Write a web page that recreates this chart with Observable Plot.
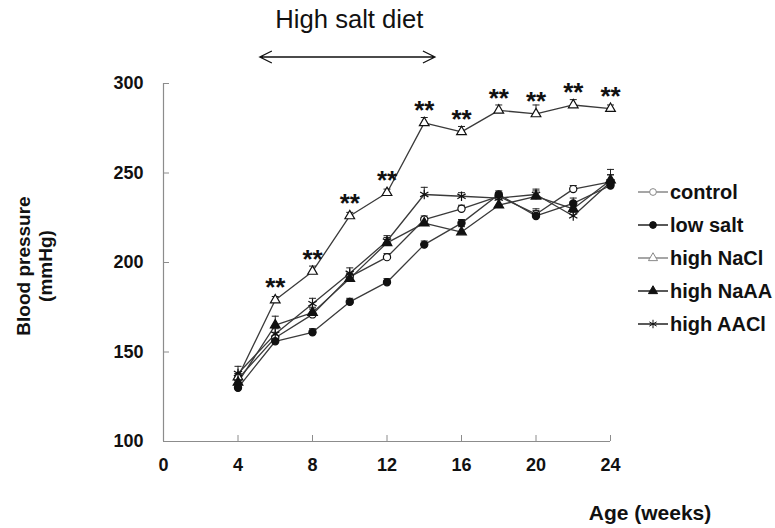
<!DOCTYPE html>
<html><head><meta charset="utf-8">
<script src="https://cdn.jsdelivr.net/npm/d3@7"></script>
<script src="https://cdn.jsdelivr.net/npm/@observablehq/plot@0.6"></script>
<style>
html,body{margin:0;padding:0;background:#fff;}
#chart{width:775px;height:528px;}
</style></head><body><div id="chart"></div>
<script>
// ---- data ----
const weeks = [4, 6, 8, 10, 12, 14, 16, 18, 20, 22, 24];
const control  = [135, 158, 171, 192, 203, 224, 230, 237, 227, 241, 245];
const lowSalt  = [130, 156, 161, 178, 189, 210, 222, 238, 226, 233, 243];
const highNaCl = [136, 179, 195, 226, 239, 278, 273, 285, 283, 288, 286];
const highNaAA = [133, 165, 172, 191, 211, 222, 217, 232, 237, 230, 246];
const highAACl = [138, 160, 177, 194, 212, 238, 237, 236, 238, 226, 245];
const errControl  = [3, 3, 3, 2, 2, 2, 2, 2, 2, 2, 4];
const errLowSalt  = [2, 2, 2, 2, 2, 2, 2, 2, 4, 3, 3];
const errHighNaCl = [2, 2, 3, 2, 2, 3, 3, 3, 5, 3, 2];
const errHighNaAA = [3, 5, 3, 3, 3, 3, 3, 3, 3, 4, 6];
const errHighAACl = [4, 3, 3, 3, 3, 4, 2, 2, 3, 2, 4];
const seriesNames = ["control", "low salt", "high NaCl", "high NaAA", "high AACl"];
const starWeeks = [6, 8, 10, 12, 14, 16, 18, 20, 22, 24];
const starLabel = "**";
const xTicks = [0, 4, 8, 12, 16, 20, 24];
const yTicks = [100, 150, 200, 250, 300];
const titleText = "High salt diet";
const dietStart = 5.2, dietEnd = 14.6;
const yLabelLines = ["Blood pressure", "(mmHg)"];
const xLabelText = "Age (weeks)";

// ---- styles ----
const styles = {
  "control":   {symbol: "circle",   fill: "white", stroke: "#111", legendLine: "#888"},
  "low salt":  {symbol: "circle",   fill: "#111",  stroke: "#111", legendLine: "#222"},
  "high NaCl": {symbol: "triangle", fill: "white", stroke: "#111", legendLine: "#888"},
  "high NaAA": {symbol: "triangle", fill: "#111",  stroke: "#111", legendLine: "#222"},
  "high AACl": {symbol: "asterisk", fill: "none",  stroke: "#111", legendLine: "#222"}
};
const values = [control, lowSalt, highNaCl, highNaAA, highAACl];
const errs = [errControl, errLowSalt, errHighNaCl, errHighNaAA, errHighAACl];
const rows = [];
seriesNames.forEach((s, i) => weeks.forEach((w, j) =>
  rows.push({series: s, week: w, bp: values[i][j], err: errs[i][j]})));
const starRows = rows.filter(d => d.series === "high NaCl" && starWeeks.includes(d.week));

const capSymbol = {draw(ctx) { ctx.moveTo(-3.5, 0); ctx.lineTo(3.5, 0); }};
const font = "Liberation Sans, Arial, sans-serif";

const marks = [
  Plot.ruleY([100], {stroke: "#8c8c8c", strokeWidth: 1.2}),
  Plot.ruleX([0], {stroke: "#8c8c8c", strokeWidth: 1.2}),
  Plot.axisY({ticks: yTicks, tickSize: -6, tickPadding: 26, stroke: "#8c8c8c", tickFormat: d => d,
    fontSize: 18, fontWeight: "bold", fill: "#111", label: null}),
  Plot.axisX({ticks: xTicks, tickSize: -6, tickPadding: 23, stroke: "#8c8c8c", tickFormat: d => d,
    fontSize: 18, fontWeight: "bold", fill: "#111", label: null}),
];
seriesNames.forEach(s => {
  marks.push(Plot.line(rows.filter(d => d.series === s), {x: "week", y: "bp", stroke: "#3a3a3a", strokeWidth: 1.3}));
});
marks.push(Plot.ruleX(rows, {x: "week", y1: "bp", y2: d => d.bp + d.err, stroke: "#222", strokeWidth: 1}));
marks.push(Plot.dot(rows, {x: "week", y: d => d.bp + d.err, symbol: capSymbol, stroke: "#222", strokeWidth: 1, r: 3}));
seriesNames.forEach(s => {
  const st = styles[s];
  marks.push(Plot.dot(rows.filter(d => d.series === s), {x: "week", y: "bp", symbol: st.symbol,
    r: st.symbol === "asterisk" ? 4.5 : 3.6, fill: st.fill, stroke: st.stroke, strokeWidth: 1.2}));
});
marks.push(Plot.text(starRows, {x: "week", y: "bp", text: () => starLabel, dy: -12, fontSize: 26,
  fontWeight: "bold", fill: "#111", lineAnchor: "middle"}));

const plot = Plot.plot({
  width: 775, height: 528,
  marginLeft: 163, marginRight: 165, marginTop: 83, marginBottom: 87,
  style: {fontFamily: font, background: "white", overflow: "visible"},
  x: {domain: [0, 24]},
  y: {domain: [100, 300]},
  marks
});
document.getElementById("chart").appendChild(plot);

// ---- annotations ----
const svg = d3.select(plot);
const xs = plot.scale("x"), ys = plot.scale("y");
const topY = ys.apply(300), botY = ys.apply(100);
const rightX = xs.apply(24);

// title + double arrow
svg.append("text").attr("x", (xs.apply(dietStart) + xs.apply(dietEnd)) / 2 + 2).attr("y", 28)
  .attr("text-anchor", "middle").attr("font-family", "Liberation Sans Narrow, Liberation Sans, sans-serif")
  .attr("font-size", 25).attr("fill", "#111").attr("textLength", 148).attr("lengthAdjust", "spacingAndGlyphs")
  .text(titleText);
const ay = topY - 26;
const ax1 = xs.apply(dietStart), ax2 = xs.apply(dietEnd);
svg.append("path").attr("fill", "none").attr("stroke", "#111").attr("stroke-width", 1.3)
  .attr("d", `M${ax1},${ay}H${ax2}M${ax1 + 12},${ay - 6}L${ax1},${ay}L${ax1 + 12},${ay + 6}M${ax2 - 12},${ay - 6}L${ax2},${ay}L${ax2 - 12},${ay + 6}`);

// y label
const ymid = (topY + botY) / 2 + 4;
yLabelLines.forEach((t, i) => {
  svg.append("text").attr("transform", `translate(${30 + i * 22},${ymid}) rotate(-90)`)
    .attr("text-anchor", "middle").attr("font-family", font).attr("font-weight", "bold")
    .attr("font-size", 19).attr("fill", "#111").text(t);
});
// x label
svg.append("text").attr("x", rightX + 40).attr("y", botY + 79).attr("text-anchor", "middle")
  .attr("font-family", font).attr("font-weight", "bold").attr("font-size", 21).attr("fill", "#111").text(xLabelText);

// legend
const lg = svg.append("g").attr("transform", `translate(${rightX + 28},${topY + 109})`);
seriesNames.forEach((s, i) => {
  const st = styles[s];
  const g = lg.append("g").attr("transform", `translate(0,${i * 33})`);
  g.append("line").attr("x1", 0).attr("x2", 30).attr("stroke", st.legendLine).attr("stroke-width", 1.5);
  const sym = {circle: d3.symbolCircle, triangle: d3.symbolTriangle, asterisk: d3.symbolAsterisk}[st.symbol];
  g.append("path").attr("transform", "translate(15,0)").attr("d", d3.symbol(sym, st.symbol === "asterisk" ? 50 : 36)())
    .attr("fill", st.fill).attr("stroke", st.symbol === "asterisk" ? "#111" : (st.fill === "white" ? "#888" : "#111"));
  g.append("text").attr("x", 32).attr("y", 0).attr("dy", "0.35em").attr("text-anchor", "start")
    .attr("font-family", font).attr("font-weight", "bold").attr("font-size", 20).attr("fill", "#111").text(s);
});
</script></body></html>
